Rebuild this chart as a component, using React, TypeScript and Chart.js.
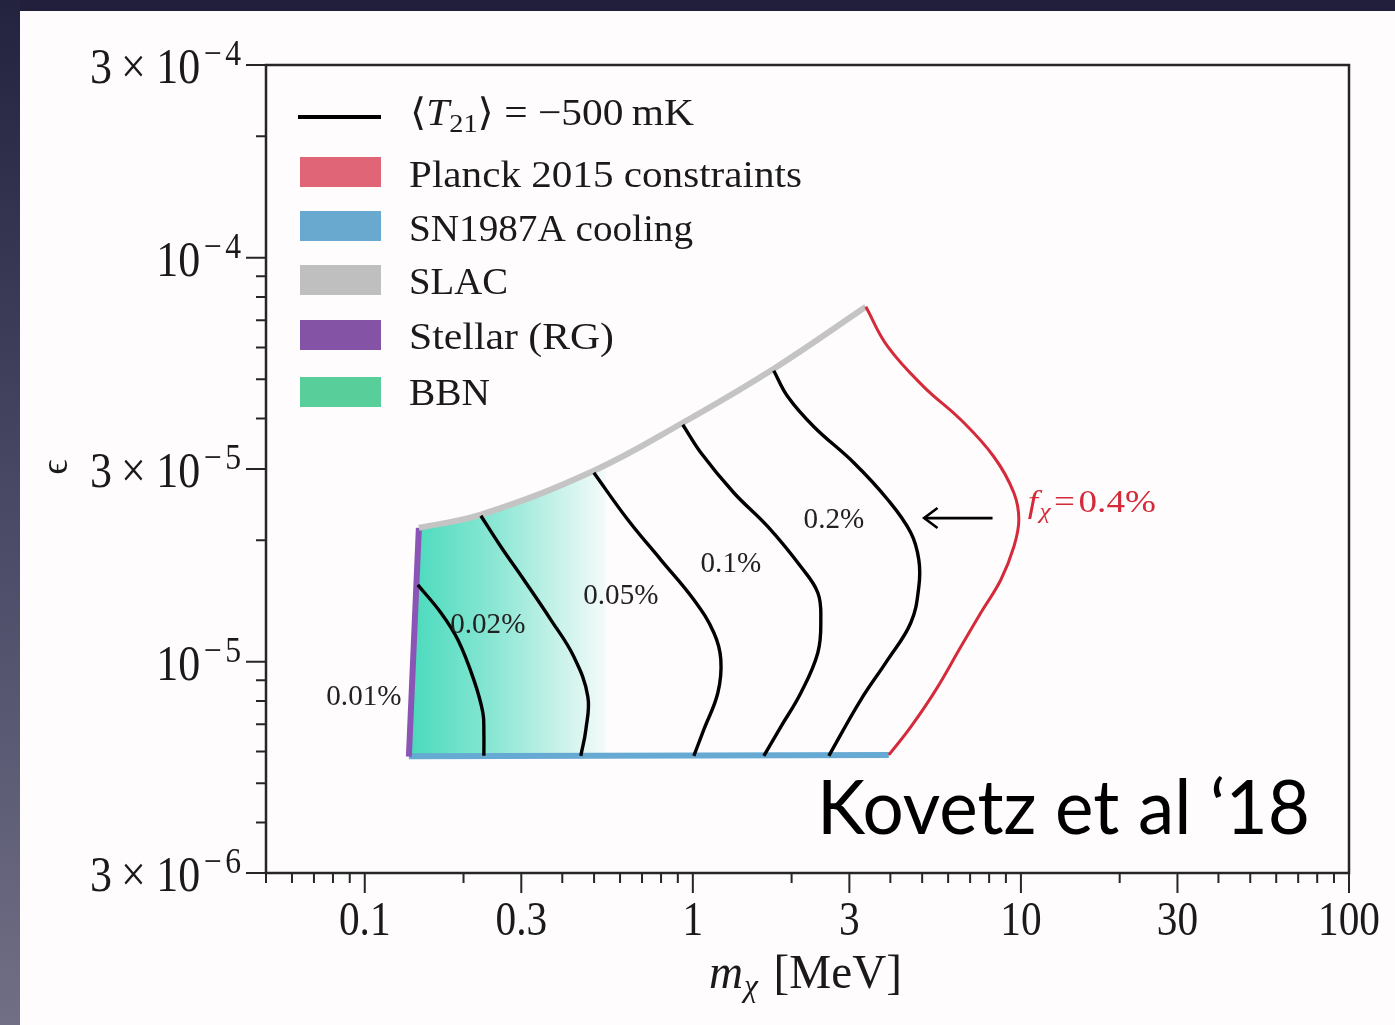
import React, { useEffect, useRef } from "react";
import { Chart, registerables } from "chart.js";

Chart.register(...registerables);

// ---------------- data (m_chi in MeV, epsilon) ----------------
const SLAC_MASS = [0.1462, 0.2259, 0.4993, 0.932, 1.765, 3.368];
const SLAC_EPS = [2.146e-5, 2.312e-5, 2.971e-5, 3.905e-5, 5.313e-5, 7.562e-5];

const STELLAR_MASS = [0.1363, 0.1462];
const STELLAR_EPS = [5.82e-6, 2.146e-5];

const SN_MASS = [0.1363, 3.957];
const SN_EPS = [5.84e-6, 5.88e-6];

const PLANCK_MASS = [3.368, 3.929, 5.059, 6.559, 8.27, 9.515, 9.854, 9.515, 8.686, 7.547, 6.559, 5.504, 4.617, 3.957];
const PLANCK_EPS = [7.562e-5, 6.022e-5, 4.792e-5, 3.972e-5, 3.217e-5, 2.62e-5, 2.246e-5, 1.926e-5, 1.596e-5, 1.322e-5, 1.089e-5, 8.52e-6, 6.9e-6, 5.88e-6];

const BBN_MASS = [0.1363, 0.1462, 0.2259, 0.4993, 0.543, 0.543];
const BBN_EPS = [5.84e-6, 2.146e-5, 2.312e-5, 2.971e-5, 3.08e-5, 5.86e-6];

const C001_MASS = [0.1451, 0.1706, 0.1922, 0.215, 0.2291, 0.2307, 0.2307];
const C001_EPS = [1.55e-5, 1.322e-5, 1.133e-5, 9.02e-6, 7.48e-6, 6.67e-6, 5.85e-6];

const C002_MASS = [0.2259, 0.26, 0.3054, 0.3692, 0.4338, 0.4786, 0.4719, 0.4556];
const C002_EPS = [2.298e-5, 1.926e-5, 1.596e-5, 1.27e-5, 1.029e-5, 8.19e-6, 6.79e-6, 5.85e-6];

const C005_MASS = [0.4993, 0.6337, 0.799, 1.007, 1.159, 1.217, 1.192, 1.08, 1.007];
const C005_EPS = [2.937e-5, 2.246e-5, 1.788e-5, 1.424e-5, 1.18e-5, 1.012e-5, 8.38e-6, 6.79e-6, 5.85e-6];

const C01_MASS = [0.932, 1.058, 1.333, 1.693, 2.135, 2.404, 2.455, 2.404, 2.135, 1.854, 1.646];
const C01_EPS = [3.861e-5, 3.291e-5, 2.62e-5, 2.159e-5, 1.718e-5, 1.482e-5, 1.27e-5, 1.053e-5, 8.38e-6, 6.9e-6, 5.85e-6];

const C02_MASS = [1.765, 1.948, 2.338, 3.095, 3.929, 4.617, 4.884, 4.884, 4.617, 3.929, 3.251, 2.597];
const C02_EPS = [5.253e-5, 4.527e-5, 3.817e-5, 3.109e-5, 2.518e-5, 2.086e-5, 1.788e-5, 1.533e-5, 1.249e-5, 1.012e-5, 8.05e-6, 5.85e-6];

const ARROW_MASS = [8.194, 5.07];
const ARROW_EPS = [2.268e-5, 2.268e-5];
const ARROWHEAD_MASS = [5.569, 5.07, 5.569];
const ARROWHEAD_EPS = [2.401e-5, 2.268e-5, 2.143e-5];

const CONTOUR_LABELS = ["0.01%", "0.02%", "0.05%", "0.1%", "0.2%"];
const CONTOUR_LABEL_MASS = [0.0994, 0.2372, 0.6033, 1.306, 2.691];
const CONTOUR_LABEL_EPS = [8.29e-6, 1.249e-5, 1.474e-5, 1.768e-5, 2.272e-5];
const FX_LABEL_MASS = 10.5;
const FX_LABEL_EPS = 2.518e-5;

const X_MAJOR_TICKS = [0.1, 0.3, 1, 3, 10, 30, 100];
const X_TICK_LABELS = ["0.1", "0.3", "1", "3", "10", "30", "100"];
const X_MINOR_TICKS = [0.05, 0.06, 0.07, 0.08, 0.09, 0.2, 0.4, 0.5, 0.6, 0.7, 0.8, 0.9, 2, 4, 5, 6, 7, 8, 9, 20, 40, 50, 60, 70, 80, 90];
const Y_MAJOR_TICKS = [3e-4, 1e-4, 3e-5, 1e-5, 3e-6];
const Y_TICK_MANTISSA = ["3", "", "3", "", "3"];
const Y_TICK_EXPONENT = ["4", "4", "5", "5", "6"];
const Y_MINOR_TICKS = [2e-4, 9e-5, 8e-5, 7e-5, 6e-5, 5e-5, 4e-5, 2e-5, 9e-6, 8e-6, 7e-6, 6e-6, 5e-6, 4e-6];

const LEGEND_LABELS = ["Planck 2015 constraints", "SN1987A cooling", "SLAC", "Stellar (RG)", "BBN"];
const LEGEND_COLORS = ["#e06677", "#69a9cf", "#bfbfbf", "#8553a5", "#58cf9b"];

// ---------------- drawing helpers ----------------
const W = 1395;
const H = 1025;
const SERIF = '"Liberation Serif", "DejaVu Serif", serif';
const SANS = 'Lato, "Open Sans", sans-serif';

type Seg = { t: string; size: number; italic?: boolean; dy?: number; padL?: number; padR?: number; fam?: string };

const segFont = (s: Seg) => `${s.italic ? "italic " : ""}${s.size}px ${s.fam || SERIF}`;

function richWidth(ctx: CanvasRenderingContext2D, segs: Seg[]) {
  let w = 0;
  for (const s of segs) {
    ctx.font = segFont(s);
    w += (s.padL || 0) + ctx.measureText(s.t).width + (s.padR || 0);
  }
  return w;
}

function drawRich(
  ctx: CanvasRenderingContext2D,
  segs: Seg[],
  x: number,
  y: number,
  o: { align?: "left" | "right" | "center"; sx?: number; target?: number; color?: string }
) {
  const nat = richWidth(ctx, segs);
  const k = o.target ? o.target / nat : o.sx ?? 1;
  const total = nat * k;
  const align = o.align || "left";
  const x0 = align === "left" ? x : align === "right" ? x - total : x - total / 2;
  ctx.save();
  ctx.fillStyle = o.color || "#1a1a1a";
  ctx.textBaseline = "alphabetic";
  ctx.textAlign = "left";
  ctx.translate(x0, y);
  ctx.scale(k, 1);
  let cx = 0;
  for (const s of segs) {
    ctx.font = segFont(s);
    cx += s.padL || 0;
    ctx.fillText(s.t, cx, s.dy || 0);
    cx += ctx.measureText(s.t).width + (s.padR || 0);
  }
  ctx.restore();
}

const pts = (xs: number[], ys: number[]) => xs.map((x, i) => ({ x, y: ys[i] }));

function lineDs(label: string, xs: number[], ys: number[], color: string, width: number, extra: any = {}) {
  return {
    label,
    data: pts(xs, ys),
    showLine: true,
    borderColor: color,
    borderWidth: width,
    pointRadius: 0,
    pointHoverRadius: 0,
    fill: false,
    tension: 0.4,
    borderCapStyle: "butt",
    order: 1,
    ...extra,
  };
}

const decorPlugin = {
  id: "decor",
  beforeDraw(chart: any) {
    const ctx = chart.ctx as CanvasRenderingContext2D;
    ctx.save();
    ctx.fillStyle = "#fefcfd";
    ctx.fillRect(0, 0, W, H);
    ctx.fillStyle = "#211f3c";
    ctx.fillRect(0, 0, W, 11);
    const g = ctx.createLinearGradient(0, 0, 0, H);
    g.addColorStop(0, "#23223f");
    g.addColorStop(0.5, "#4a4966");
    g.addColorStop(1, "#706f85");
    ctx.fillStyle = g;
    ctx.fillRect(0, 0, 20, H);
    ctx.restore();
  },
  afterDraw(chart: any) {
    const ctx = chart.ctx as CanvasRenderingContext2D;
    const { left, right, top, bottom } = chart.chartArea;
    const xs = chart.scales.x;
    const ys = chart.scales.y;
    ctx.save();

    // frame
    ctx.strokeStyle = "#262626";
    ctx.lineWidth = 2.5;
    ctx.strokeRect(left, top, right - left, bottom - top);

    // ticks
    ctx.lineWidth = 2;
    ctx.beginPath();
    for (const v of X_MAJOR_TICKS) {
      const x = xs.getPixelForValue(v);
      ctx.moveTo(x, bottom);
      ctx.lineTo(x, bottom + 20);
    }
    for (const v of X_MINOR_TICKS) {
      const x = xs.getPixelForValue(v);
      ctx.moveTo(x, bottom);
      ctx.lineTo(x, bottom + 10);
    }
    for (const v of Y_MAJOR_TICKS) {
      const y = ys.getPixelForValue(v);
      ctx.moveTo(left - 20, y);
      ctx.lineTo(left, y);
    }
    for (const v of Y_MINOR_TICKS) {
      const y = ys.getPixelForValue(v);
      ctx.moveTo(left - 10, y);
      ctx.lineTo(left, y);
    }
    ctx.stroke();

    // x tick labels
    X_MAJOR_TICKS.forEach((v, i) => {
      const x = xs.getPixelForValue(v);
      drawRich(ctx, [{ t: X_TICK_LABELS[i], size: 48 }], x, bottom + 62, { align: "center", sx: 0.86 });
    });

    // y tick labels
    Y_MAJOR_TICKS.forEach((v, i) => {
      const y = ys.getPixelForValue(v);
      const segs: Seg[] = [];
      if (Y_TICK_MANTISSA[i]) {
        segs.push({ t: Y_TICK_MANTISSA[i], size: 50 });
        segs.push({ t: "\u00d7", size: 50, padL: 10, padR: 12 });
      }
      segs.push({ t: "10", size: 50 });
      segs.push({ t: "\u2212", size: 36, dy: -18, padL: 4 });
      segs.push({ t: Y_TICK_EXPONENT[i], size: 36, dy: -18, padL: 4 });
      drawRich(ctx, segs, left - 25, y + 18, { align: "right", sx: 0.88 });
    });

    // axis titles
    drawRich(
      ctx,
      [
        { t: "m", size: 48, italic: true },
        { t: "\u03c7", size: 32, italic: true, dy: 8, padL: 1 },
        { t: "[MeV]", size: 48, padL: 16 },
      ],
      709,
      988,
      { align: "left", target: 193 }
    );
    ctx.save();
    ctx.translate(57, 467);
    ctx.rotate(-Math.PI / 2);
    ctx.font = `38px ${SERIF}`;
    ctx.fillStyle = "#1a1a1a";
    ctx.textAlign = "center";
    ctx.textBaseline = "middle";
    ctx.fillText("\u03f5", 0, 0);
    ctx.restore();

    // legend
    ctx.strokeStyle = "#000";
    ctx.lineWidth = 4;
    ctx.beginPath();
    ctx.moveTo(298, 117);
    ctx.lineTo(381, 117);
    ctx.stroke();
    const patchTops = [157, 211, 265, 320, 377];
    const textBase = [187, 241, 294, 349, 405];
    const textW = [393, 284, 99, 205, 81];
    LEGEND_LABELS.forEach((lab, i) => {
      ctx.fillStyle = LEGEND_COLORS[i];
      ctx.fillRect(300, patchTops[i], 81, 30);
      drawRich(ctx, [{ t: lab, size: 38 }], 409, textBase[i], { align: "left", target: textW[i] });
    });
    drawRich(
      ctx,
      [
        { t: "\u27e8", size: 38 },
        { t: "T", size: 38, italic: true },
        { t: "21", size: 26, dy: 7 },
        { t: "\u27e9", size: 38 },
        { t: " = \u2212500\u2009mK", size: 38 },
      ],
      410,
      125,
      { align: "left", target: 284 }
    );

    // contour labels
    CONTOUR_LABELS.forEach((lab, i) => {
      const x = xs.getPixelForValue(CONTOUR_LABEL_MASS[i]);
      const y = ys.getPixelForValue(CONTOUR_LABEL_EPS[i]);
      drawRich(ctx, [{ t: lab, size: 30 }], x, y + 10, { align: "center", sx: 0.97, color: "#222" });
    });
    {
      const x = xs.getPixelForValue(FX_LABEL_MASS);
      const y = ys.getPixelForValue(FX_LABEL_EPS);
      drawRich(
        ctx,
        [
          { t: "f", size: 31, italic: true },
          { t: "\u03c7", size: 21, italic: true, dy: 6, padL: 1 },
          { t: "=", size: 31, padL: 3, padR: 3 },
          { t: "0.4%", size: 31 },
        ],
        x,
        y + 12,
        { align: "left", target: 128, color: "#d42a3a" }
      );
    }

    // citation
    drawRich(ctx, [{ t: "Kovetz et al \u201818", size: 76, fam: SANS }], 817, 834, {
      align: "left",
      target: 493,
      color: "#000",
    });

    ctx.restore();
  },
};

export default function App() {
  const ref = useRef<HTMLCanvasElement>(null);
  useEffect(() => {
    const canvas = ref.current;
    if (!canvas) return;
    const datasets: any[] = [
      {
        label: "BBN",
        data: pts(BBN_MASS, BBN_EPS),
        showLine: true,
        borderWidth: 0,
        borderColor: "rgba(0,0,0,0)",
        pointRadius: 0,
        tension: 0,
        fill: "shape",
        order: 10,
        backgroundColor: (c: any) => {
          const ch = c.chart;
          const sx = ch.scales && ch.scales.x;
          if (!sx || !ch.chartArea) return "rgba(72,218,188,0.6)";
          const x0 = sx.getPixelForValue(BBN_MASS[0]);
          const x1 = sx.getPixelForValue(BBN_MASS[4]);
          const g = ch.ctx.createLinearGradient(x0, 0, x1, 0);
          g.addColorStop(0, "rgba(72,218,188,1)");
          g.addColorStop(0.45, "rgba(72,218,188,0.62)");
          g.addColorStop(1, "rgba(72,218,188,0.05)");
          return g;
        },
      },
      lineDs("T21 0.01%", C001_MASS, C001_EPS, "#000", 3.4),
      lineDs("T21 0.02%", C002_MASS, C002_EPS, "#000", 3.4),
      lineDs("T21 0.05%", C005_MASS, C005_EPS, "#000", 3.4),
      lineDs("T21 0.1%", C01_MASS, C01_EPS, "#000", 3.4),
      lineDs("T21 0.2%", C02_MASS, C02_EPS, "#000", 3.4),
      lineDs("Arrow", ARROW_MASS, ARROW_EPS, "#000", 2.6, { tension: 0 }),
      lineDs("Arrowhead", ARROWHEAD_MASS, ARROWHEAD_EPS, "#000", 2.6, { tension: 0 }),
      lineDs("Planck 2015 constraints", PLANCK_MASS, PLANCK_EPS, "#d42a3a", 3, { order: 2 }),
      lineDs("SLAC", SLAC_MASS, SLAC_EPS, "#c4c4c4", 6, { order: 2 }),
      lineDs("Stellar (RG)", STELLAR_MASS, STELLAR_EPS, "#8b55b5", 6, { tension: 0, order: 2 }),
      lineDs("SN1987A cooling", SN_MASS, SN_EPS, "#66a9d2", 6, { tension: 0, order: 2 }),
    ];
    const chart = new Chart(canvas, {
      type: "scatter",
      data: { datasets },
      options: {
        animation: false,
        responsive: false,
        maintainAspectRatio: false,
        devicePixelRatio: 1,
        events: [],
        layout: { padding: { left: 266, right: W - 1349, top: 65, bottom: H - 873 } },
        plugins: { legend: { display: false }, tooltip: { enabled: false } },
        scales: {
          x: { type: "logarithmic", min: 0.05, max: 100, display: false },
          y: { type: "logarithmic", min: 3e-6, max: 3e-4, display: false },
        },
      } as any,
      plugins: [decorPlugin as any],
    });
    return () => chart.destroy();
  }, []);
  return (
    <div style={{ position: "fixed", left: 0, top: 0, width: W, height: H }}>
      <canvas ref={ref} width={W} height={H} style={{ display: "block", width: W, height: H }} />
    </div>
  );
}
